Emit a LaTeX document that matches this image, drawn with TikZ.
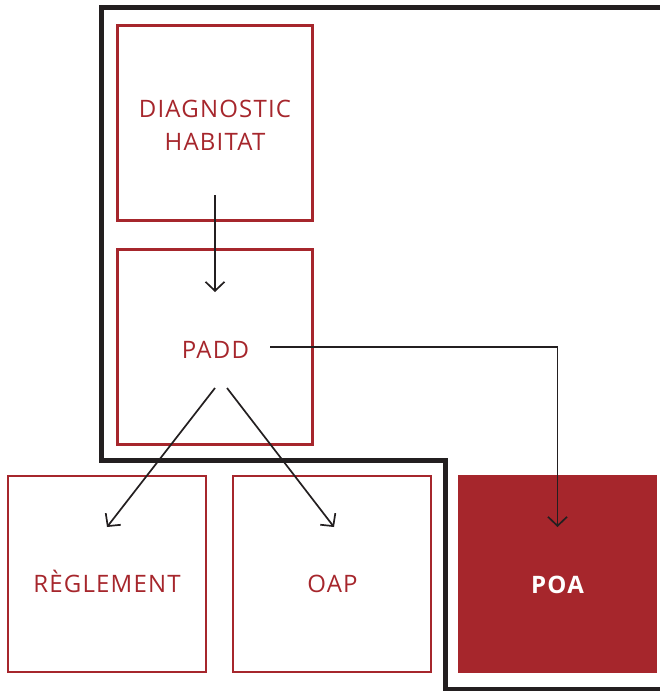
\documentclass[tikz,border=0pt]{standalone}
\usepackage{fontspec}
\setmainfont{Open Sans}
\newfontfamily\boxfont[LetterSpace=5]{Open Sans}
\usetikzlibrary{arrows.meta}
\definecolor{padred}{RGB}{166,38,44}
\definecolor{inkblack}{RGB}{35,31,32}

\begin{document}
\begin{tikzpicture}[x=1pt, y=-1pt,
  box/.style={draw=padred, line width=3pt, minimum width=195pt, minimum height=195pt, inner sep=0pt, outer sep=0pt},
  lowbox/.style={box, line width=2pt, minimum width=198pt, minimum height=196pt},
  lbl/.style={text=padred, font=\boxfont\fontsize{24}{33}\selectfont, anchor=base, align=center, inner sep=0pt},
  link/.style={draw=inkblack, line width=1.7pt, -{Straight Barb[length=9pt,width=19pt,line width=1.7pt]}}]
  \useasboundingbox (0,0) rectangle (660,691);
  % outline round the PLH part
  \draw[inkblack, line width=5pt] (670,7.5) -- (101.5,7.5) -- (101.5,460) -- (445,460) -- (445,689) -- (670,689);

  \node[box] (diag) at (215,122.5) {};
  \node[box] (padd) at (215,347) {};
  \node[lowbox] (regl) at (107,574) {};
  \node[lowbox] (oap) at (332.3,574) {};
  \node[fill=padred, minimum width=199pt, minimum height=198pt, inner sep=0pt, outer sep=0pt] (poa) at (557.5,574) {};

  % base of a two-line label is its last line
  \node[lbl] (diag-txt) at (215,150) {DIAGNOSTIC\\HABITAT};
  \node[lbl] (padd-txt) at (215.5,358) {PADD};
  \node[lbl] (regl-txt) at (107,592) {RÈGLEMENT};
  \node[lbl] (oap-txt) at (332.5,592) {OAP};
  \node[lbl, text=white, font=\boxfont\bfseries\fontsize{24}{33}\selectfont] (poa-txt) at (557.5,593) {POA};

  \draw[link] ([yshift=25pt]diag.south) -- ([yshift=-42.5pt]padd.north);
  \draw[link] ([yshift=-41pt]padd.center) -- ([yshift=-51pt]regl.north);
  \draw[link] ([shift={(12pt,-41pt)}]padd.center) -- ([shift={(1.7pt,-51pt)}]oap.north);
  \draw[link] ([xshift=55pt]padd.center) -| ([yshift=-52pt]poa.north);
\end{tikzpicture}
\end{document}
